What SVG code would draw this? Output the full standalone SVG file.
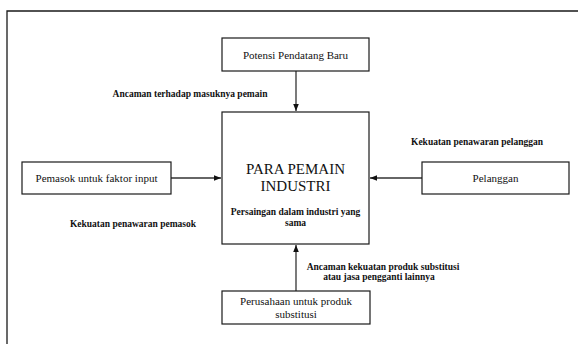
<svg xmlns="http://www.w3.org/2000/svg" width="578" height="344" viewBox="0 0 578 344">
<style>
.box{fill:#fff;stroke:#1a1a1a;stroke-width:1.2}
.t{font-family:"Liberation Serif","Times New Roman",serif;font-size:11px;fill:#111;text-anchor:middle}
.big{font-size:15px}
.lb{font-family:"Liberation Serif","Times New Roman",serif;font-size:9.5px;font-weight:bold;fill:#111;text-anchor:middle}
.con{stroke:#333;stroke-width:1.3;fill:none;marker-end:url(#ah)}
</style>
<defs>
<marker id="ah" viewBox="0 0 10 10" refX="10" refY="5" markerWidth="5.5" markerHeight="5.5" orient="auto" markerUnits="strokeWidth">
<path d="M0,1 L10,5 L0,9 Z" fill="#111"/>
</marker>
</defs>
<rect width="578" height="344" fill="#fff"/>
<path d="M7,344 V11 H578" fill="none" stroke="#1a1a1a" stroke-width="1.3"/>
<g id="connectors">
<line class="con" x1="296" y1="71" x2="296" y2="111"/>
<line class="con" x1="171" y1="178" x2="221" y2="178"/>
<line class="con" x1="422" y1="178" x2="370" y2="178"/>
<line class="con" x1="296" y1="291" x2="296" y2="245"/>
</g>
<g id="new-entrants">
<rect class="box" x="222" y="38" width="147" height="33"/>
<text class="t" x="295.5" y="59">Potensi Pendatang Baru</text>
</g>
<g id="industry">
<rect class="box" x="222" y="112" width="147" height="132"/>
<text class="t big" x="295.5" y="174">PARA PEMAIN</text>
<text class="t big" x="295.5" y="191">INDUSTRI</text>
<text class="lb" x="295.5" y="215">Persaingan dalam industri yang</text>
<text class="lb" x="295.5" y="226">sama</text>
</g>
<g id="suppliers">
<rect class="box" x="22" y="162" width="149" height="32"/>
<text class="t" x="96.5" y="182">Pemasok untuk faktor input</text>
</g>
<g id="buyers">
<rect class="box" x="422" y="162" width="147" height="32"/>
<text class="t" x="495.5" y="182">Pelanggan</text>
</g>
<g id="substitutes">
<rect class="box" x="222" y="291" width="148" height="33"/>
<text class="t" x="296" y="305">Perusahaan untuk produk</text>
<text class="t" x="296" y="318">substitusi</text>
</g>
<g id="labels">
<text class="lb" x="190" y="97">Ancaman terhadap masuknya pemain</text>
<text class="lb" x="133" y="227">Kekuatan penawaran pemasok</text>
<text class="lb" x="477" y="145">Kekuatan penawaran pelanggan</text>
<text class="lb" x="383" y="270">Ancaman kekuatan produk substitusi</text>
<text class="lb" x="379" y="280">atau jasa pengganti lainnya</text>
</g>
</svg>
